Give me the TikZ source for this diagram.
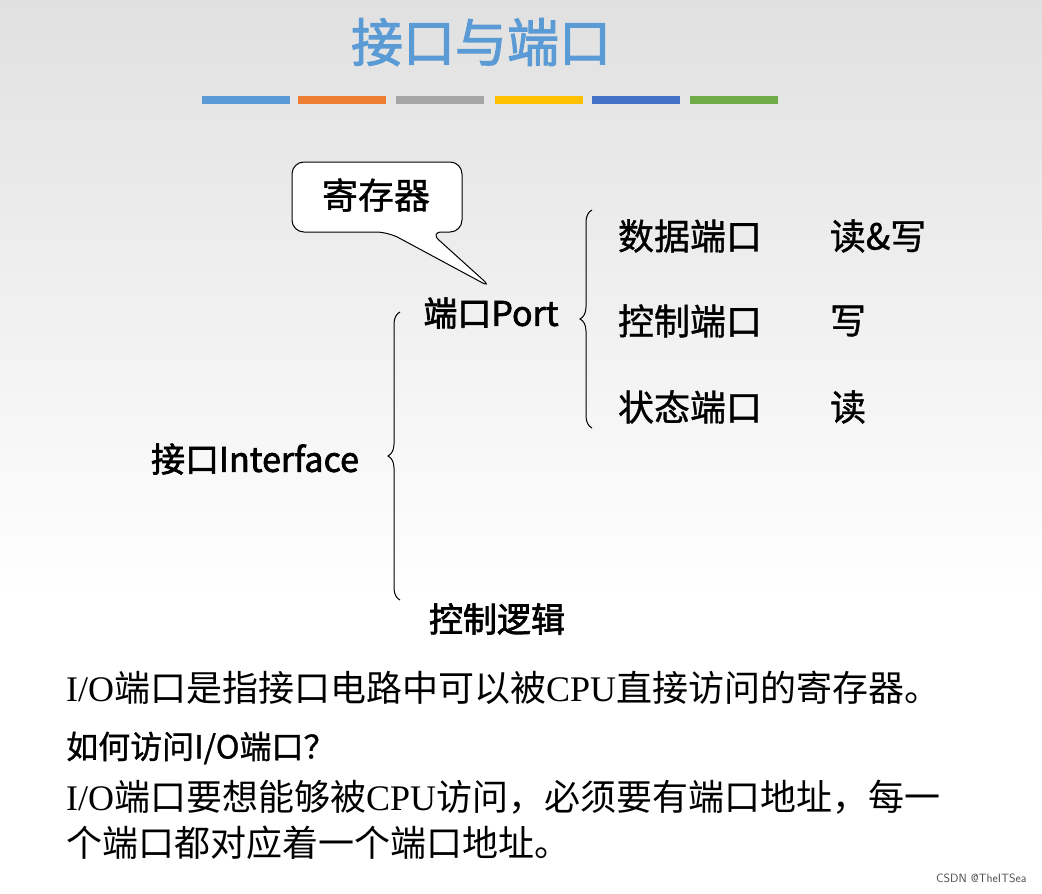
\documentclass[tikz,border=0pt]{standalone}
\usepackage{fontspec}
\setmainfont{Liberation Serif}
\newfontfamily\cjk{Noto Sans CJK SC}
\newfontfamily\cjkm[FakeBold=1]{Noto Sans CJK SC}
\newfontfamily\cjkb[FakeBold=2]{Noto Sans CJK SC}
\usetikzlibrary{decorations.pathreplacing}
\definecolor{tb}{HTML}{5B9BD5}
\definecolor{b1}{HTML}{5B9BD5}
\definecolor{b2}{HTML}{ED7D31}
\definecolor{b3}{HTML}{A5A5A5}
\definecolor{b4}{HTML}{FFC000}
\definecolor{b5}{HTML}{4472C4}
\definecolor{b6}{HTML}{70AD47}
\tikzset{lab/.style={font=\fontsize{36}{38}\selectfont\cjkm,inner sep=0pt},
 blab/.style={font=\fontsize{34}{36}\selectfont\cjkb,inner sep=0pt},
 body/.style={font=\fontsize{36}{38}\selectfont,inner sep=0pt,anchor=west},
 br/.style={decorate,decoration={brace,amplitude=12pt},line width=1pt}}
\begin{document}
\begin{tikzpicture}[x=1pt,y=-1pt]
\useasboundingbox (0,0) rectangle (1042,894);
\shade[top color=black!12,bottom color=white] (0,0) rectangle (1042,600);
\fill[white] (0,600) rectangle (1042,894);
\node[font=\fontsize{52}{54}\selectfont\cjkb,text=tb] (title) at (481,42) {接口与端口};
\foreach \c/\a in {b1/202,b2/298,b3/396,b4/495,b5/592,b6/690}
 \fill[\c] (\a,96) rectangle +(88,8);
\coordinate (tipc) at (492,288);
\draw[line width=1pt,rounded corners=12pt,fill=white] (292,162) -- (462,162) -- (462,232) -- (430,232) -- (tipc) -- (388,232) -- (292,232) -- cycle;
\node[lab] (reg) at (376,195) {寄存器};
\node[blab] (port) at (491,313) {端口Port};
\node[blab] (intf) at (255,459) {接口Interface};
\node[blab] (ctl) at (497,619) {控制逻辑};
\draw[br] (400,600) -- (400,312);
\draw[br] (592,428) -- (592,210);
\node[lab] (d1) at (690,236) {数据端口};
\node[lab] (d2) at (878,236) {读\&写};
\node[lab] (c1) at (690,321) {控制端口};
\node[lab] (c2) at (848,321) {写};
\node[lab] (s1) at (690,407) {状态端口};
\node[lab] (s2) at (848,407) {读};
\node[body] (t1) at (66,688) {I/O{\cjk 端口是指接口电路中可以被}CPU{\cjk 直接访问的寄存器。}};
\node[body,font=\fontsize{32}{34}\selectfont\cjkm] (t2) at (66,748) {如何访问I/O端口？};
\node[body] (t3) at (66,797) {I/O{\cjk 端口要想能够被}CPU{\cjk 访问，必须要有端口地址，每一}};
\node[body] (t4) at (66,843) {{\cjk 个端口都对应着一个端口地址。}};
\node[font=\fontsize{12}{14}\selectfont\sffamily,text=black!70,anchor=east] (wm) at (1030,878) {CSDN @TheITSea};
\end{tikzpicture}
\end{document}
